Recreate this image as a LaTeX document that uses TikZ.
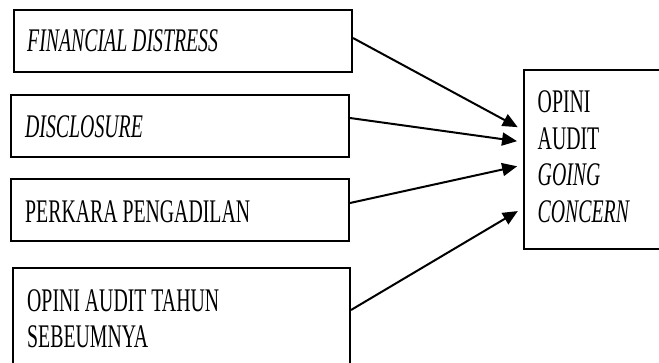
\documentclass[tikz,border=0pt]{standalone}
\usepackage{fontspec}
\setmainfont{Liberation Serif}[FakeStretch=0.6]
\usetikzlibrary{arrows.meta}
\begin{document}
\begin{tikzpicture}[x=1pt,y=-1pt,
  box/.style={draw=black,line width=2pt,fill=none,inner sep=0pt},
  lbl/.style={inner sep=0pt,font=\fontsize{33}{35.5}\selectfont,align=left},
  arr/.style={line width=2pt,-{Triangle[length=15pt,width=13pt]},shorten >=6pt}
]
\useasboundingbox (0,0) rectangle (659,362);
\begin{scope}
\clip (0,0) rectangle (659,362);
\node[box,minimum width=338pt,minimum height=62pt] (b1) at (183,41) {};
\node[box,minimum width=338pt,minimum height=62pt] (b2) at (180,126) {};
\node[box,minimum width=338pt,minimum height=62pt] (b3) at (180,210) {};
\node[box,minimum width=337pt,minimum height=110pt] (b4) at (181.5,323) {};
\node[box,minimum width=146pt,minimum height=179pt] (r) at (597,159.5) {};
\end{scope}
\node[lbl,anchor=base west] (t1) at (27,51) {\itshape FINANCIAL DISTRESS};
\node[lbl,anchor=base west] (t2) at (25,137) {\itshape DISCLOSURE};
\node[lbl,anchor=base west] (t3) at (25,222) {PERKARA PENGADILAN};
\node[lbl,anchor=north west] (t4) at (27,289.5) {OPINI AUDIT TAHUN\\SEBEUMNYA};
\node[lbl,anchor=north west,font=\fontsize{33}{36.7}\selectfont] (tr) at (537.5,90.5) {OPINI\\AUDIT\\\itshape GOING\\\itshape CONCERN};
\draw[arr] ([yshift=3pt]b1.east) -- ([yshift=29.5pt]r.west);
\draw[arr] ([yshift=8pt]b2.east) -- ([yshift=17.5pt]r.west);
\draw[arr] ([yshift=7pt]b3.east) -- ([yshift=-5.5pt]r.west);
\draw[arr] ([yshift=13pt]b4.east) -- ([yshift=-48.5pt]r.west);
\end{tikzpicture}
\end{document}
